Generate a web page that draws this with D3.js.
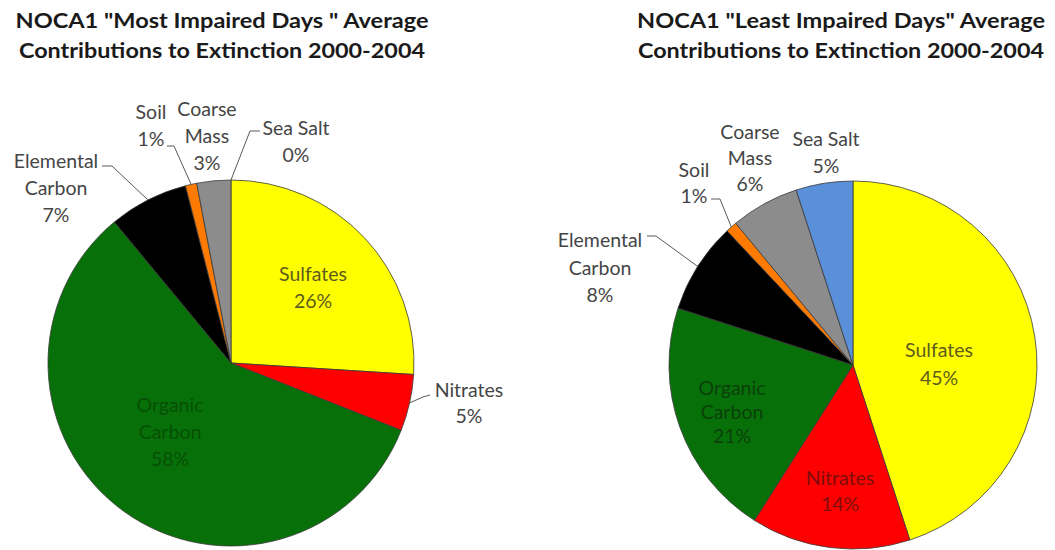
<!DOCTYPE html>
<html>
<head>
<meta charset="utf-8">
<script src="https://cdn.jsdelivr.net/npm/d3@7"></script>
<style>
  html, body { margin: 0; padding: 0; background: #ffffff; }
  svg { display: block; }
</style>
</head>
<body>
<svg id="chart" width="1055" height="550"></svg>
<script>
// ---- data ----
const categories = ["Sulfates", "Nitrates", "Organic Carbon", "Elemental Carbon", "Soil", "Coarse Mass", "Sea Salt"];
const labelNames = [["Sulfates"], ["Nitrates"], ["Organic", "Carbon"], ["Elemental", "Carbon"], ["Soil"], ["Coarse", "Mass"], ["Sea Salt"]];
const mostImpairedValues = [26, 5, 58, 7, 1, 3, 0];
const leastImpairedValues = [45, 14, 21, 8, 1, 6, 5];
const titleMost = ["NOCA1 \"Most Impaired Days \" Average", "Contributions to Extinction 2000-2004"];
const titleLeast = ["NOCA1 \"Least Impaired Days\" Average", "Contributions to Extinction 2000-2004"];

// ---- styles ----
const sliceColors = ["#FFFF00", "#FF0000", "#087008", "#000000", "#FF7A00", "#8C8C8C", "#5A8FD9"];
const outsideText = "#454545";

// label layout
const layoutMost = [
  { cx: 313, y: 281, dy: 27, fill: "#5e5b1f" },
  { cx: 469, y: 397, dy: 26, fill: outsideText, leader: [[430, 395], [423, 397]] },
  { cx: 170, y: 412, dy: 27, fill: "#055005" },
  { cx: 56,  y: 168, dy: 27, fill: outsideText, leader: [[102, 166], [112, 166]] },
  { cx: 151, y: 119, dy: 27, fill: outsideText, leader: [[167, 146], [174, 146]] },
  { cx: 207, y: 116, dy: 27, fill: outsideText },
  { cx: 296, y: 135, dy: 27, fill: outsideText, leader: [[260, 131], [250, 131]] }
];
const layoutLeast = [
  { cx: 939, y: 357, dy: 28, fill: "#5e5b1f" },
  { cx: 840, y: 485, dy: 26, fill: "#7e0e0e" },
  { cx: 732, y: 395, dy: 24, fill: "#0b400b" },
  { cx: 600, y: 247, dy: 27.5, fill: outsideText, leader: [[647, 236], [656, 236]] },
  { cx: 694, y: 177, dy: 26, fill: outsideText, leader: [[711, 199], [720, 199]] },
  { cx: 750, y: 139, dy: 26, fill: outsideText },
  { cx: 826, y: 146, dy: 27, fill: outsideText }
];

const svg = d3.select("#chart");

function drawTitle(lines, cx, width) {
  const g = svg.append("g");
  lines.forEach((t, i) => {
    g.append("text")
      .attr("x", cx)
      .attr("y", [28, 58][i])
      .attr("text-anchor", "middle")
      .attr("font-family", "Lato, 'Open Sans', sans-serif")
      .attr("font-weight", "bold")
      .attr("font-size", 21)
      .attr("fill", "#1a1a1a")
      .attr("textLength", width[i])
      .attr("lengthAdjust", "spacingAndGlyphs")
      .text(t);
  });
}

function drawPie(values, center, radius, layout) {
  const data = categories.map((c, i) => ({ name: c, lines: labelNames[i], value: values[i], color: sliceColors[i], lay: layout[i] }));
  const pie = d3.pie().sort(null).value(d => d.value).startAngle(0).endAngle(2 * Math.PI);
  const arcs = pie(data);
  const arc = d3.arc().innerRadius(0).outerRadius(radius);
  const g = svg.append("g").attr("transform", `translate(${center[0]},${center[1]})`);

  g.selectAll("path.slice")
    .data(arcs.filter(a => a.data.value > 0))
    .join("path")
    .attr("class", "slice")
    .attr("d", arc)
    .attr("fill", d => d.data.color)
    .attr("stroke", "#3a3a3a")
    .attr("stroke-width", 0.8)
    .attr("stroke-linejoin", "round");

  // leader lines
  arcs.forEach(a => {
    const L = a.data.lay;
    if (!L.leader) return;
    const mid = (a.startAngle + a.endAngle) / 2;
    const px = center[0] + radius * Math.sin(mid);
    const py = center[1] - radius * Math.cos(mid);
    svg.append("polyline")
      .attr("points", [L.leader[0], L.leader[1], [px, py]].map(p => p.join(",")).join(" "))
      .attr("fill", "none")
      .attr("stroke", "#595959")
      .attr("stroke-width", 1);
  });

  // labels
  arcs.forEach(a => {
    const L = a.data.lay;
    const lines = a.data.lines.concat([a.data.value + "%"]);
    const t = svg.append("text")
      .attr("text-anchor", "middle")
      .attr("font-family", "Lato, 'Open Sans', sans-serif")
      .attr("font-size", 19.5)
      .attr("fill", L.fill);
    lines.forEach((ln, i) => {
      t.append("tspan").attr("x", L.cx).attr("y", L.y + i * L.dy).text(ln);
    });
  });
}

drawTitle(titleMost, 222, [413, 406]);
drawTitle(titleLeast, 841, [408, 406]);
drawPie(mostImpairedValues, [231, 363], 183, layoutMost);
drawPie(leastImpairedValues, [853, 365], 184, layoutLeast);
</script>
</body>
</html>
